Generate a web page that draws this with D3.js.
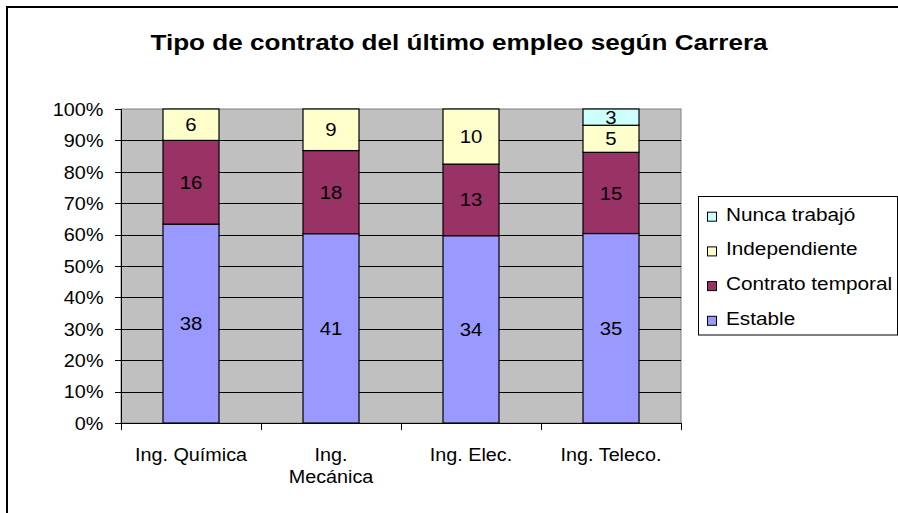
<!DOCTYPE html>
<html>
<head>
<meta charset="utf-8">
<script src="https://cdn.jsdelivr.net/npm/d3@7"></script>
<style>
  body { margin: 0; background: #fff; }
  text { font-family: "Liberation Sans", Arial, sans-serif; fill: #000; }
</style>
</head>
<body>
<svg id="chart" width="898" height="513"></svg>
<script>
// data
const categories = ["Ing. Química", "Ing. Mecánica", "Ing. Elec.", "Ing. Teleco."];
const categoryLines = [["Ing. Química"], ["Ing.", "Mecánica"], ["Ing. Elec."], ["Ing. Teleco."]];
const seriesNames = ["Estable", "Contrato temporal", "Independiente", "Nunca trabajó"];
const estable = [38, 41, 34, 35];
const contratoTemporal = [16, 18, 13, 15];
const independiente = [6, 9, 10, 5];
const nuncaTrabajo = [0, 0, 0, 3];
const yTicks = [0, 0.1, 0.2, 0.3, 0.4, 0.5, 0.6, 0.7, 0.8, 0.9, 1];
const colors = ["#9999FF", "#993366", "#FFFFCC", "#CCFFFF"];

const rows = categories.map((c, i) => ({
  cat: c,
  "Estable": estable[i],
  "Contrato temporal": contratoTemporal[i],
  "Independiente": independiente[i],
  "Nunca trabajó": nuncaTrabajo[i]
}));

const svg = d3.select("#chart");
const plot = {left: 121, right: 681, top: 109, bottom: 423};

// the original text is a bit wider than the font, so scale it in x around its anchor
function label(parent, x, y, str, size, anchor, k, bold) {
  return parent.append("text")
    .attr("transform", `translate(${x},${y}) scale(${k},1)`)
    .attr("text-anchor", anchor)
    .attr("font-size", size)
    .attr("font-weight", bold ? "bold" : null)
    .text(str);
}

// outer frame (only top and left edges visible)
svg.append("path")
  .attr("d", "M7,513V7H898")
  .attr("fill", "none").attr("stroke", "#000").attr("stroke-width", 2);

// title
label(svg, 459, 49.5, "Tipo de contrato del último empleo según Carrera", 22.5, "middle", 1.16, true);

const x = d3.scaleBand().domain(categories)
  .range([plot.left, plot.right]).paddingInner(0.6).paddingOuter(0.3);
const y = d3.scaleLinear().domain([0, 1]).range([plot.bottom, plot.top]);

// plot background
svg.append("rect")
  .attr("x", plot.left).attr("y", plot.top)
  .attr("width", plot.right - plot.left).attr("height", plot.bottom - plot.top)
  .attr("fill", "#C0C0C0").attr("stroke", "#808080").attr("stroke-width", 1);

// gridlines
svg.append("g").selectAll("line")
  .data(yTicks.filter(t => t > 0 && t < 1))
  .join("line")
  .attr("x1", plot.left).attr("x2", plot.right)
  .attr("y1", d => Math.round(y(d)) + 0.5).attr("y2", d => Math.round(y(d)) + 0.5)
  .attr("stroke", "#000");

// stacked 100% bars
const stack = d3.stack().keys(seriesNames).offset(d3.stackOffsetExpand);
const series = stack(rows);

svg.append("g").selectAll("g")
  .data(series)
  .join("g")
  .attr("fill", (d, i) => colors[i])
  .selectAll("rect")
  .data(d => d.filter(p => p[1] - p[0] > 0))
  .join("rect")
  .attr("x", d => x(d.data.cat))
  .attr("width", x.bandwidth())
  .attr("y", d => y(d[1]))
  .attr("height", d => y(d[0]) - y(d[1]))
  .attr("stroke", "#000").attr("stroke-width", 1.2);

// value labels
const valueLabels = svg.append("g");
series.forEach(s => {
  s.filter(p => p.data[s.key] > 0).forEach(d => {
    label(valueLabels, x(d.data.cat) + x.bandwidth() / 2, y((d[0] + d[1]) / 2) + 6.6,
      d.data[s.key], 18.5, "middle", 1.1);
  });
});

// y axis
const yAxis = svg.append("g");
yAxis.append("line")
  .attr("x1", plot.left + 0.5).attr("x2", plot.left + 0.5)
  .attr("y1", plot.top).attr("y2", plot.bottom + 7)
  .attr("stroke", "#000");
yAxis.selectAll("line.tick")
  .data(yTicks).join("line").attr("class", "tick")
  .attr("x1", plot.left - 6).attr("x2", plot.left)
  .attr("y1", d => Math.round(y(d)) + 0.5).attr("y2", d => Math.round(y(d)) + 0.5)
  .attr("stroke", "#000");
yTicks.forEach(t => label(yAxis, 103.5, y(t) + 6.8, d3.format(".0%")(t), 17.7, "end", 1.12));

// x axis
const xAxis = svg.append("g");
xAxis.append("line")
  .attr("x1", plot.left).attr("x2", plot.right)
  .attr("y1", plot.bottom + 0.5).attr("y2", plot.bottom + 0.5)
  .attr("stroke", "#000");
const bounds = categories.map(c => x(c) - x.step() * x.paddingOuter()).concat([plot.right]);
xAxis.selectAll("line.tick")
  .data(bounds).join("line").attr("class", "tick")
  .attr("x1", d => Math.round(d) + 0.5).attr("x2", d => Math.round(d) + 0.5)
  .attr("y1", plot.bottom).attr("y2", plot.bottom + 7)
  .attr("stroke", "#000");
categories.forEach((c, i) => {
  categoryLines[i].forEach((line, j) => {
    label(xAxis, x(c) + x.bandwidth() / 2, 461 + j * 22, line, 18.5, "middle", 1.07);
  });
});

// legend
const legend = svg.append("g");
legend.append("rect")
  .attr("x", 698.5).attr("y", 196.5).attr("width", 199).attr("height", 138.5)
  .attr("fill", "#fff").attr("stroke", "#000");
seriesNames.slice().reverse().forEach((name, i) => {
  const cy = 220.7 + i * 34.7;
  legend.append("rect")
    .attr("x", 707.5).attr("y", cy - 8.5).attr("width", 9).attr("height", 9)
    .attr("fill", colors[seriesNames.indexOf(name)])
    .attr("stroke", "#000");
  label(legend, 726, cy, name, 18.7, "start", 1.11);
});
</script>
</body>
</html>
